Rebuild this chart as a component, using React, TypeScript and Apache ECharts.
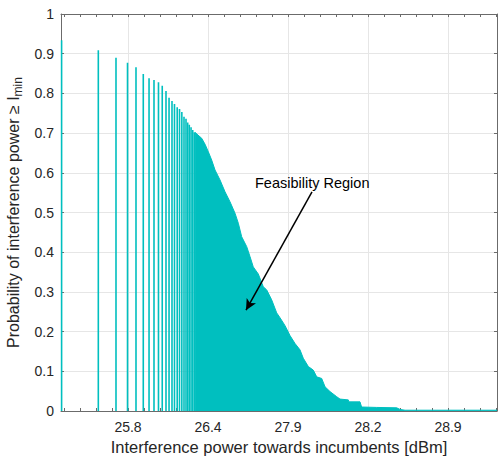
import React, { useEffect, useRef } from 'react';
import * as echarts from 'echarts';

// x axis is an index axis: one unit = distance between labelled ticks
const xTickValues = [0, 1, 2, 3, 4];
const xTickLabels = ['25.8', '26.4', '27.9', '28.2', '28.9'];
const xMinorTickValues = [
  -0.8, -0.6, -0.4, -0.2, 0, 0.2, 0.4, 0.6, 0.8, 1, 1.2, 1.4, 1.6, 1.8, 2, 2.2,
  2.4, 2.6, 2.8, 3, 3.2, 3.4, 3.6, 3.8, 4, 4.2, 4.4, 4.6,
];
const xMin = -0.8375;
const xMax = 4.6125;

// sparse vertical lines (left part)
const spikeX = [
  -0.83, -0.371, -0.15, -0.006, 0.1, 0.191, 0.263, 0.325, 0.381, 0.428, 0.475,
  0.513, 0.55, 0.581, 0.615, 0.644, 0.673, 0.7, 0.725, 0.746, 0.766, 0.788,
  0.809, 0.829,
];
const spikeY = [
  0.934, 0.909, 0.89, 0.877, 0.866, 0.849, 0.838, 0.834, 0.828, 0.819, 0.806,
  0.789, 0.781, 0.773, 0.765, 0.761, 0.753, 0.741, 0.736, 0.727, 0.721, 0.715,
  0.708, 0.702,
];

// dense region (filled), outline points
const areaX = [
  0.838, 0.875, 0.921, 0.963, 1.004, 1.046, 1.088, 1.15, 1.213, 1.275, 1.338,
  1.379, 1.421, 1.484, 1.525, 1.566, 1.629, 1.691, 1.734, 1.796, 1.859, 1.9,
  1.963, 2.025, 2.088, 2.15, 2.191, 2.254, 2.316, 2.359, 2.421, 2.463, 2.525,
  2.609, 2.65, 2.754, 2.76, 2.9, 2.92, 3.109, 3.359, 3.4, 3.463, 4.613,
];
const areaY = [
  0.702, 0.695, 0.687, 0.672, 0.653, 0.632, 0.607, 0.582, 0.552, 0.527, 0.498,
  0.473, 0.439, 0.414, 0.389, 0.363, 0.345, 0.313, 0.305, 0.28, 0.247, 0.235,
  0.215, 0.19, 0.17, 0.154, 0.133, 0.112, 0.103, 0.086, 0.082, 0.061, 0.049,
  0.036, 0.03, 0.028, 0.023, 0.023, 0.01, 0.009, 0.008, 0.004, 0.002, 0.002,
];

// annotation arrow (start -> end, in axis units)
const arrowStart = [2.3, 0.552];
const arrowEnd = [1.475, 0.254];
const annotationText = 'Feasibility Region';

const TEAL = '#00bfbf';
const AXIS = '#6b6b6b';
const GRID = '#e6e6e6';
const TEXT = '#262626';
const FONT = "'Liberation Sans', Arial, Helvetica, sans-serif";

export default function App() {
  const ref = useRef<HTMLDivElement>(null);

  useEffect(() => {
    const chart = echarts.init(ref.current!, null, { renderer: 'svg' });
    const option: any = {
      animation: false,
      backgroundColor: '#fff',
      textStyle: { fontFamily: FONT },
      grid: {
        left: 61,
        right: 1,
        top: 14,
        bottom: 45,
        containLabel: false,
        outerBoundsMode: 'none',
      },
      xAxis: [
        {
          type: 'value',
          position: 'bottom',
          min: xMin,
          max: xMax,
          axisLine: { show: true, onZero: false, lineStyle: { color: AXIS, width: 1 } },
          axisTick: {
            show: true,
            inside: true,
            length: 3,
            customValues: xMinorTickValues,
            lineStyle: { color: AXIS },
          },
          axisLabel: {
            show: true,
            customValues: xTickValues,
            formatter: (v: number) => {
              const i = xTickValues.findIndex((t) => Math.abs(t - v) < 1e-6);
              return i >= 0 ? xTickLabels[i] : '';
            },
            fontSize: 14,
            color: TEXT,
            margin: 9,
            fontFamily: FONT,
          },
          splitLine: { show: false },
          name: 'Interference power towards incumbents [dBm]',
          nameLocation: 'middle',
          nameGap: 27,
          nameTextStyle: { fontSize: 16.5, color: TEXT, fontFamily: FONT },
        },
        {
          type: 'value',
          position: 'top',
          min: xMin,
          max: xMax,
          axisLine: { show: true, onZero: false, lineStyle: { color: AXIS, width: 1 } },
          axisTick: {
            show: true,
            inside: true,
            length: 3,
            customValues: xMinorTickValues,
            lineStyle: { color: AXIS },
          },
          axisLabel: { show: false },
          splitLine: { show: false },
        },
        {
          type: 'value',
          position: 'bottom',
          min: xMin,
          max: xMax,
          axisLine: { show: false },
          axisTick: { show: false, customValues: xTickValues },
          axisLabel: { show: false },
          splitLine: { show: true, lineStyle: { color: GRID, width: 1 } },
        },
      ],
      yAxis: [
        {
          type: 'value',
          position: 'left',
          min: 0,
          max: 1,
          interval: 0.1,
          axisLine: { show: true, onZero: false, lineStyle: { color: AXIS, width: 1 } },
          axisTick: { show: true, inside: true, length: 3, lineStyle: { color: AXIS } },
          axisLabel: {
            fontSize: 14,
            color: TEXT,
            margin: 7,
            fontFamily: FONT,
            formatter: (v: number) => String(+v.toFixed(1)),
          },
          splitLine: { show: true, lineStyle: { color: GRID, width: 1 } },
          name: 'Probability of interference power \u2265 I{sub|min}',
          nameLocation: 'middle',
          nameRotate: 90,
          nameGap: 35,
          nameTextStyle: {
            fontSize: 16,
            color: TEXT,
            fontFamily: FONT,
            rich: {
              sub: { fontSize: 12, color: TEXT, fontFamily: FONT, padding: [9, 0, 0, 0] },
            },
          },
        },
        {
          type: 'value',
          position: 'right',
          min: 0,
          max: 1,
          interval: 0.1,
          axisLine: { show: true, onZero: false, lineStyle: { color: AXIS, width: 1 } },
          axisTick: { show: true, inside: true, length: 3, lineStyle: { color: AXIS } },
          axisLabel: { show: false },
          splitLine: { show: false },
        },
      ],
      series: [
        {
          type: 'bar',
          xAxisIndex: 0,
          yAxisIndex: 0,
          barWidth: 1.6,
          itemStyle: { color: TEAL },
          data: spikeX.map((x, i) => [x, spikeY[i]]),
          z: 3,
        },
        {
          type: 'line',
          xAxisIndex: 0,
          yAxisIndex: 0,
          symbol: 'none',
          lineStyle: { color: TEAL, width: 1 },
          areaStyle: { color: TEAL, opacity: 1 },
          data: areaX.map((x, i) => [x, areaY[i]]),
          z: 3,
          markLine: {
            silent: true,
            symbol: ['none', 'arrow'],
            symbolSize: [8, 11],
            label: { show: false },
            lineStyle: { color: '#000', width: 1.5, type: 'solid' },
            data: [[{ coord: arrowStart }, { coord: arrowEnd }]],
          },
        },
      ],
      graphic: [
        {
          type: 'text',
          left: 313 - 58,
          top: 175,
          style: {
            text: annotationText,
            fontSize: 14.5,
            fill: '#000',
            fontFamily: FONT,
          },
          z: 10,
        },
      ],
    };
    chart.setOption(option);
    return () => chart.dispose();
  }, []);

  return (
    <div
      ref={ref}
      style={{ position: 'absolute', left: 0, top: 0, width: 498, height: 456, background: '#fff' }}
    />
  );
}
